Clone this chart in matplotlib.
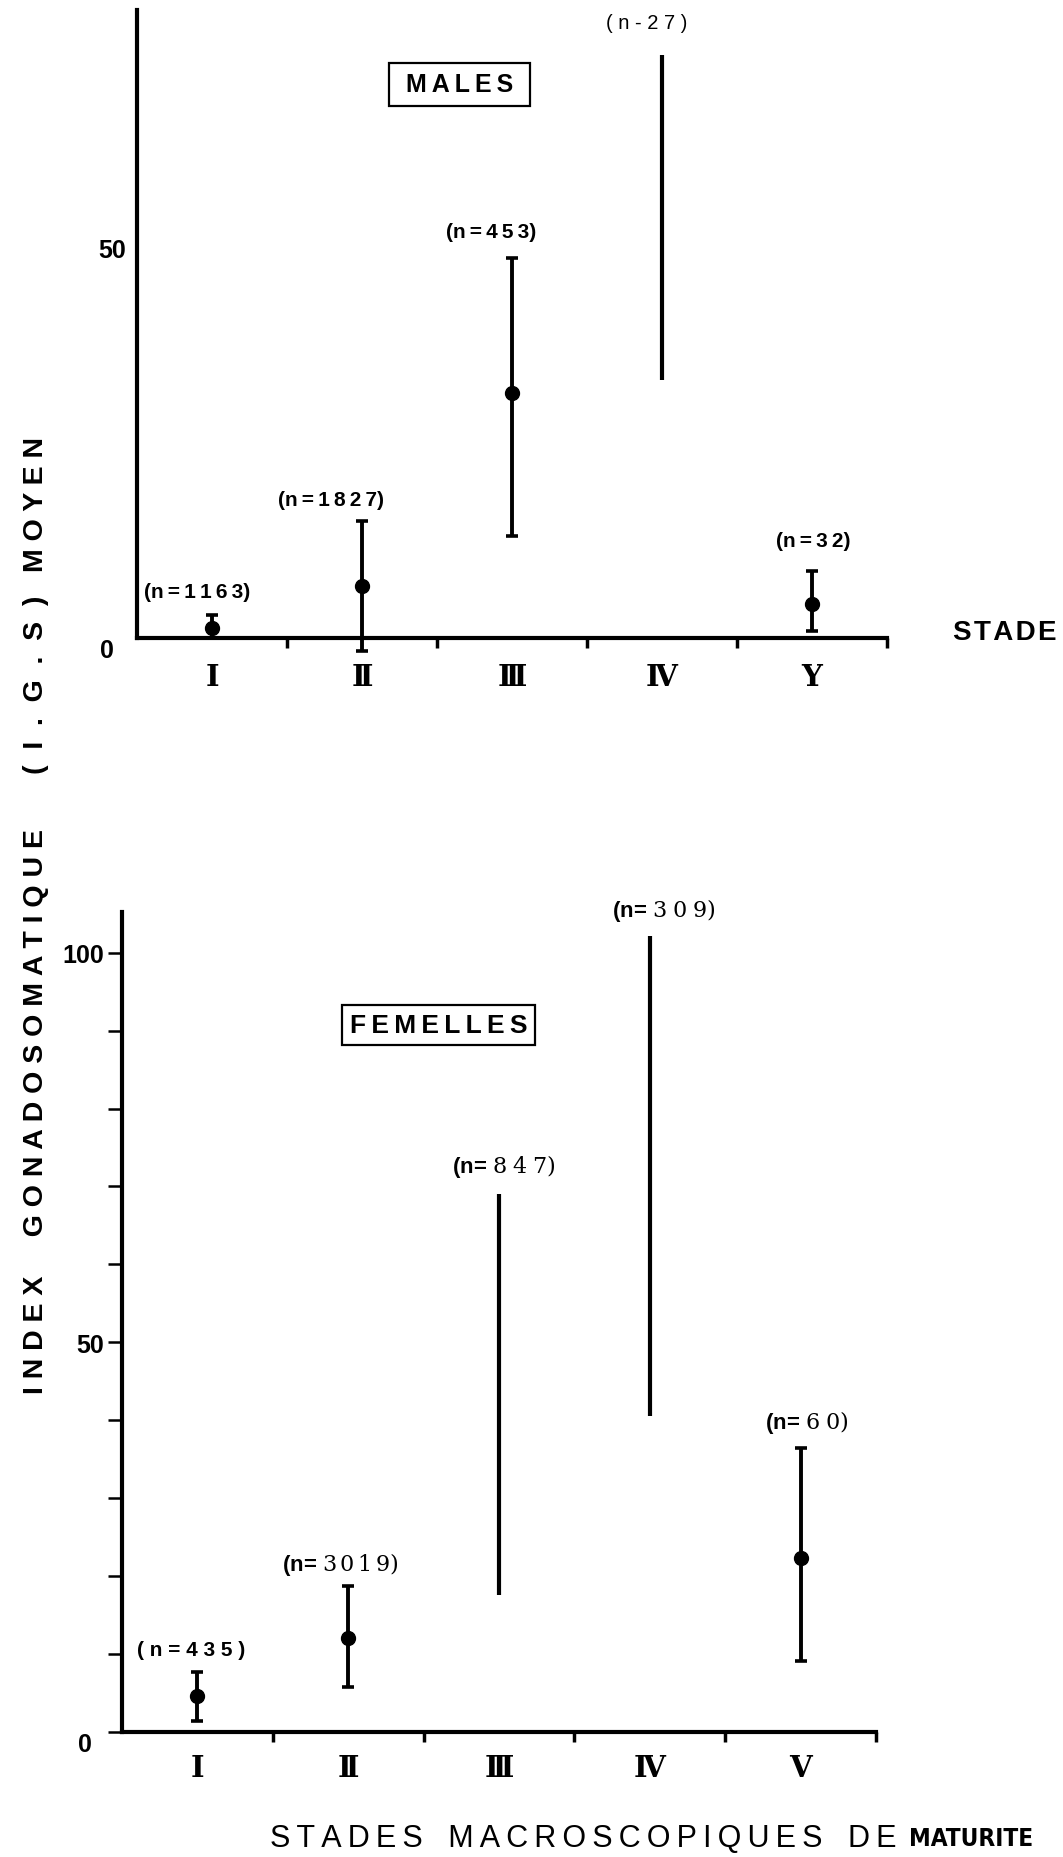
"""IGS moyen par stade macroscopique de maturité, mâles et femelles"""
import numpy as np
import matplotlib
matplotlib.use("Agg")
import matplotlib.pyplot as plt
from matplotlib import font_manager as fm

plt.rcParams["mathtext.fontset"] = "custom"
plt.rcParams["mathtext.rm"] = "DejaVu Serif"

SANS = ["Liberation Sans", "DejaVu Sans"]
SERIF = ["DejaVu Serif", "DejaVu Sans"]
FIN = "\u2009"      # espace fine
CHEVEU = "\u200a"   # espace très fine


def police_etroite_grasse():
    # une police grasse étroite si le système en a une
    cand = []
    for f in fm.fontManager.ttflist:
        nom = f.fname.lower()
        if ("narrow" in nom or "condensed" in nom) and "bold" in nom \
                and "italic" not in nom and "oblique" not in nom:
            cand.append(f.fname)
    cand.sort(key=lambda p: ("liberation" not in p.lower(), p))
    return cand[0] if cand else None


# ── Données ──────────────────────────────────────────────────────────────────

stades_males = ["Ⅰ", "Ⅱ", "Ⅲ", "Ⅳ", "Y"]
stades_femelles = ["Ⅰ", "Ⅱ", "Ⅲ", "Ⅳ", "Ⅴ"]

# IGS : moyenne (nan = pas de point), minimum, maximum
igs_males_moy = [1.3, 6.7, 31.4, np.nan, 4.4]
igs_males_min = [0.0, -1.6, 13.1, 33.1, 1.0]
igs_males_max = [3.0, 15.0, 48.7, 74.7, 8.6]
n_males = [1163, 1827, 453, 27, 32]

igs_fem_moy = [4.6, 12.1, np.nan, np.nan, 22.4]
igs_fem_min = [1.5, 5.8, 17.6, 40.6, 9.2]
igs_fem_max = [7.7, 18.8, 69.0, 102.1, 36.4]
n_femelles = [435, 3019, 847, 309, 60]


def espace(s, sep=" "):
    return sep.join(s)


def panneau(ax, moy, bas, haut, stades, ymax):
    x = np.arange(len(moy)) + 0.5
    moy, bas, haut = np.asarray(moy), np.asarray(bas), np.asarray(haut)
    pt = ~np.isnan(moy)
    ax.errorbar(x[pt], moy[pt], yerr=[moy[pt] - bas[pt], haut[pt] - moy[pt]],
                fmt="o", color="black", ms=10, elinewidth=2.8, capsize=4,
                capthick=2.6, clip_on=False, zorder=3)
    ax.vlines(x[~pt], bas[~pt], haut[~pt], color="black", lw=3.0)

    ax.set_xlim(0, 5)
    ax.set_ylim(0, ymax)
    ax.spines[["top", "right"]].set_visible(False)
    ax.spines["left"].set_linewidth(3.0)
    ax.spines["bottom"].set_linewidth(3.0)
    ax.set_xticks(np.arange(1, 6))
    ax.set_xticklabels([])
    ax.set_xticks(x, minor=True)
    ax.set_xticklabels(stades, minor=True, family=SERIF, fontsize=21,
                       fontweight="bold")
    ax.tick_params(axis="x", which="major", length=7, width=2.5)
    return x


def etiquette_n(n):
    return "(n" + FIN + "=" + FIN + espace(str(n), FIN) + ")"


fig = plt.figure(figsize=(10.63, 18.58), dpi=100)

# ── Mâles ───────────────────────────────────────────────────────────────────
ax1 = fig.add_axes([0.1289, 0.6559, 0.7056, 0.3382])
x = panneau(ax1, igs_males_moy, igs_males_min, igs_males_max, stades_males, 80.4)
ax1.tick_params(axis="x", which="minor", length=0, pad=17)
ax1.set_yticks([0, 50])
lab0, lab50 = ax1.set_yticklabels(["0\u2002", "50"], family=SANS, fontsize=18,
                                  fontweight="bold")
lab0.set_verticalalignment("top")
ax1.tick_params(axis="y", length=0, pad=8)

dx_males = [-0.10, -0.21, -0.14, -0.10, 0.01]
dy_males = [3.0, 2.8, 3.3, 4.1, 3.9]
for xi, hi, n, ddx, ddy in zip(x, igs_males_max, n_males, dx_males, dy_males):
    if n == 27:
        ax1.text(xi + ddx, hi + ddy, espace(f"(n-{n})"), ha="center",
                 va="center", family=SANS, fontsize=14.5)
    else:
        ax1.text(xi + ddx, hi + ddy, etiquette_n(n), ha="center", va="center",
                 family=SANS, fontsize=15, fontweight="bold")

ax1.text(2.15, 70.9, " " + espace("MALES", FIN) + " ", ha="center",
         va="center", family=SANS, fontsize=18, fontweight="bold",
         bbox=dict(boxstyle="square,pad=0.38", fc="white", ec="black", lw=1.6))

# ── Femelles ────────────────────────────────────────────────────────────────
ax2 = fig.add_axes([0.1148, 0.0671, 0.7093, 0.4415])
x = panneau(ax2, igs_fem_moy, igs_fem_min, igs_fem_max, stades_femelles, 105.2)
ax2.tick_params(axis="x", which="minor", length=0, pad=15)
ax2.set_yticks([0, 50, 100])
fl0 = ax2.set_yticklabels(["0\u2002", "50", "100"], family=SANS, fontsize=18,
                          fontweight="bold")[0]
fl0.set_verticalalignment("top")
ax2.set_yticks([v for v in range(10, 100, 10) if v != 50], minor=True)
ax2.tick_params(axis="y", which="both", length=10, width=1.8, pad=3)

dx_fem = [-0.04, -0.05, 0.03, 0.09, 0.04]
dy_fem = [2.9, 2.9, 3.7, 3.4, 3.5]
for xi, hi, n, ddx, ddy in zip(x, igs_fem_max, n_femelles, dx_fem, dy_fem):
    if n == 435:
        lab = "( n = " + espace(str(n)) + " )"
        ax2.text(xi + ddx, hi + ddy, lab, ha="center", va="center",
                 family=SANS, fontsize=15, fontweight="bold")
    else:
        sep = "\\," if n > 999 else "\\;"
        lab = "(n= $\\mathrm{" + espace(str(n), sep) + ")}$"
        ax2.text(xi + ddx, hi + ddy, lab, ha="center", va="center",
                 family=SANS, fontsize=16, fontweight="bold")

ax2.text(2.10, 90.7, espace("FEMELLES", FIN), ha="center", va="center",
         family=SANS, fontsize=19, fontweight="bold",
         bbox=dict(boxstyle="square,pad=0.3", fc="white", ec="black", lw=1.6))

# ── Titres d'axes ───────────────────────────────────────────────────────────
fig.text(0.9455, 0.6593, espace("STADE", CHEVEU), ha="center", va="center",
         family=SANS, fontsize=20, fontweight="bold")

ylab = (espace("INDEX") + "     " + espace("GONADOSOMATIQUE") + "       "
        + espace("(I.G.S)", "  ") + "   " + espace("MOYEN"))
fig.text(0.0334, 0.507, ylab, rotation=90, ha="center", va="center",
         family=SANS, fontsize=20.5, fontweight="bold")

fig.text(0.8438, 0.0102, espace("STADES", FIN) + "   "
         + espace("MACROSCOPIQUES", FIN) + "   " + espace("DE", FIN),
         ha="right", va="center", family=SANS, fontsize=22)

etroite = police_etroite_grasse()
if etroite:
    fig.text(0.8551, 0.0102, "MATURITE", ha="left", va="center",
             fontproperties=fm.FontProperties(fname=etroite, size=17.5))
else:
    fig.text(0.8551, 0.0102, "MATURITE", ha="left", va="center",
             family=SANS, fontsize=15.5, fontweight="bold")

fig.savefig("out.png", dpi=100)
